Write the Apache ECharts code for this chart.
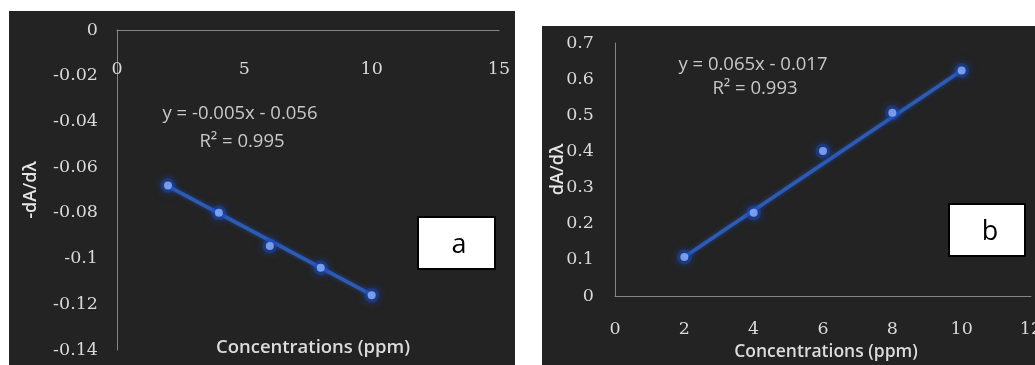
<!DOCTYPE html>
<html>
<head>
<meta charset="utf-8">
<script src="https://cdn.jsdelivr.net/npm/echarts@6/dist/echarts.min.js"></script>
<style>
html,body{margin:0;padding:0;background:#fff;width:1035px;height:365px;overflow:hidden;position:relative;}
#ca{position:absolute;left:9px;top:11px;width:506px;height:354px;background:#232323;}
#cb{position:absolute;left:542px;top:26px;width:493px;height:339px;background:#232323;}
</style>
</head>
<body>
<div id="ca"></div>
<div id="cb"></div>
<script>
// Data
const concentrations = [2, 4, 6, 8, 10];
const seriesA = [-0.068, -0.080, -0.0945, -0.104, -0.116];
const trendAx = [2, 10];
const trendAy = [-0.0683, -0.1159];
const seriesB = [0.108, 0.230, 0.401, 0.507, 0.624];
const trendBx = [2, 10];
const trendBy = [0.108, 0.624];
const eqA = ['y = -0.005x - 0.056', 'R² = 0.995'];
const eqB = ['y = 0.065x - 0.017', 'R² = 0.993'];
const xTitle = 'Concentrations (ppm)';
const yTitleA = '-dA/dλ';
const yTitleB = 'dA/dλ';

const tickFont = {color:'#d9d9d9', fontFamily:'DejaVu Serif', fontSize:17.5};
const axisLineStyle = {show:true, lineStyle:{color:'#868686', width:1}};
const fmt = v => String(+(+v).toFixed(2));

function pts(xs, ys){ return xs.map((x,i)=>[x, ys[i]]); }

function series(xs, ys, txs, tys){
  return [
    {type:'line', data: pts(txs, tys), symbol:'none', z:2, silent:true,
     lineStyle:{color:'#2d5cb5', width:3.5, shadowColor:'rgba(40,90,210,0.6)', shadowBlur:4}},
    {type:'scatter', data: pts(xs, ys), symbolSize:15, z:3, silent:true,
     itemStyle:{color:'rgba(28,72,190,0.55)', shadowColor:'#1a4fd0', shadowBlur:8}},
    {type:'scatter', data: pts(xs, ys), symbolSize:8, z:4,
     itemStyle:{color:'#8db4ff'}}
  ];
}

function textEl(x, y, t, style, extra){
  return Object.assign({type:'text', x:x, y:y, style:Object.assign({text:t, align:'center', verticalAlign:'middle'}, style)}, extra||{});
}

const eqStyle = {fill:'#c8c8c8', font:'18.5px "Open Sans"'};
const titleStyleA = {fill:'#dcdcdc', font:'600 18.5px "Open Sans"'};
const titleStyleB = {fill:'#dcdcdc', font:'600 17.5px "Open Sans"'};
const yNameStyle = {color:'#e6e6e6', fontFamily:'Open Sans', fontWeight:600, fontSize:18};
const boxStyle = {fill:'#000', font:'27px "Open Sans"'};

// Chart A
const chartA = echarts.init(document.getElementById('ca'), null, {renderer:'canvas'});
chartA.setOption({
  animation:false,
  grid:{left:108, top:19, width:382, height:320, outerBoundsMode:'none', containLabel:false},
  xAxis:{type:'value', min:0, max:15, interval:5, position:'top',
    axisLine:axisLineStyle, axisTick:{show:false}, splitLine:{show:false},
    axisLabel:Object.assign({inside:true, margin:30, formatter:fmt}, tickFont)},
  yAxis:{type:'value', min:-0.14, max:0, interval:0.02,
    axisLine:axisLineStyle, axisTick:{show:false}, splitLine:{show:false},
    axisLabel:Object.assign({margin:19, formatter:fmt}, tickFont),
    name:yTitleA, nameLocation:'middle', nameGap:77, nameMoveOverlap:false, nameTextStyle:yNameStyle},
  series: series(concentrations, seriesA, trendAx, trendAy),
  graphic:[
    textEl(231, 103, eqA[0], eqStyle),
    textEl(233, 131, eqA[1], eqStyle),
    textEl(304, 337, xTitle, titleStyleA),
    {type:'rect', shape:{x:409, y:206, width:77, height:52}, style:{fill:'#fff', stroke:'#000', lineWidth:2}},
    textEl(450, 234, 'a', boxStyle)
  ]
});

// Chart B
const chartB = echarts.init(document.getElementById('cb'), null, {renderer:'canvas'});
chartB.setOption({
  animation:false,
  grid:{left:73, top:17, width:416, height:253, outerBoundsMode:'none', containLabel:false},
  xAxis:{type:'value', min:0, max:12, interval:2,
    axisLine:axisLineStyle, axisTick:{show:false}, splitLine:{show:false},
    axisLabel:Object.assign({margin:24, formatter:fmt}, tickFont)},
  yAxis:{type:'value', min:0, max:0.7, interval:0.1,
    axisLine:axisLineStyle, axisTick:{show:false}, splitLine:{show:false},
    axisLabel:Object.assign({margin:21, formatter:fmt}, tickFont),
    name:yTitleB, nameLocation:'middle', nameGap:48, nameMoveOverlap:false, nameTextStyle:yNameStyle},
  series: series(concentrations, seriesB, trendBx, trendBy),
  graphic:[
    textEl(211, 39, eqB[0], eqStyle),
    textEl(213, 63, eqB[1], eqStyle),
    textEl(284, 326, xTitle, titleStyleB),
    {type:'rect', shape:{x:407, y:178, width:76, height:52}, style:{fill:'#fff', stroke:'#000', lineWidth:2}},
    textEl(448, 206, 'b', boxStyle)
  ]
});
</script>
</body>
</html>
